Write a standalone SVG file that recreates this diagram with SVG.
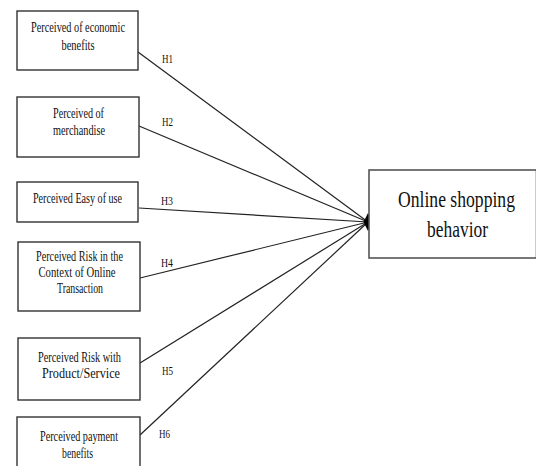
<svg xmlns="http://www.w3.org/2000/svg" width="536" height="466" viewBox="0 0 536 466">
<style>
.box{fill:#fff;stroke:#333;stroke-width:1.4}
.big{fill:#fff;stroke:#555;stroke-width:1.6}
.t{font-family:"Liberation Serif","Times New Roman",serif;font-size:14px;fill:#111;text-anchor:middle}
.h{font-family:"Liberation Serif","Times New Roman",serif;font-size:13px;fill:#111}
.bt{font-family:"Liberation Serif","Times New Roman",serif;font-size:23px;fill:#111;text-anchor:middle}
.c{stroke:#222;stroke-width:1.2;fill:none}
</style>
<rect width="536" height="466" fill="#fff"/>
<g id="connectors">
<line class="c" x1="138" y1="52" x2="368" y2="222"/>
<line class="c" x1="139" y1="126" x2="368" y2="222"/>
<line class="c" x1="139" y1="208" x2="368" y2="222"/>
<line class="c" x1="140" y1="278" x2="368" y2="222"/>
<line class="c" x1="140" y1="363" x2="368" y2="222"/>
<line class="c" x1="140" y1="435" x2="368" y2="222"/>
<polygon points="368,213 372.5,222 368,231 363.5,222" fill="#000"/>
<text class="h" x="162" y="63" textLength="11" lengthAdjust="spacingAndGlyphs">H1</text>
<text class="h" x="162" y="126" textLength="11" lengthAdjust="spacingAndGlyphs">H2</text>
<text class="h" x="161" y="205" textLength="12" lengthAdjust="spacingAndGlyphs">H3</text>
<text class="h" x="161" y="267" textLength="12" lengthAdjust="spacingAndGlyphs">H4</text>
<text class="h" x="162" y="375" textLength="11" lengthAdjust="spacingAndGlyphs">H5</text>
<text class="h" x="159" y="438" textLength="11" lengthAdjust="spacingAndGlyphs">H6</text>
</g>
<g id="n1">
<rect class="box" x="17" y="11" width="121" height="59"/>
<text class="t" x="78" y="32" textLength="94" lengthAdjust="spacingAndGlyphs">Perceived of economic</text>
<text class="t" x="78" y="50" textLength="33" lengthAdjust="spacingAndGlyphs">benefits</text>
</g>
<g id="n2">
<rect class="box" x="17" y="97" width="122" height="60"/>
<text class="t" x="78.5" y="118" textLength="51" lengthAdjust="spacingAndGlyphs">Perceived of</text>
<text class="t" x="79" y="135" textLength="52" lengthAdjust="spacingAndGlyphs">merchandise</text>
</g>
<g id="n3">
<rect class="box" x="17" y="182" width="121" height="40"/>
<text class="t" x="77.5" y="203" textLength="89" lengthAdjust="spacingAndGlyphs">Perceived Easy of use</text>
</g>
<g id="n4">
<rect class="box" x="18" y="242" width="122" height="69"/>
<text class="t" x="79.5" y="261" textLength="87" lengthAdjust="spacingAndGlyphs">Perceived Risk in the</text>
<text class="t" x="77" y="277" textLength="77" lengthAdjust="spacingAndGlyphs">Context of Online</text>
<text class="t" x="80" y="293" textLength="46" lengthAdjust="spacingAndGlyphs">Transaction</text>
</g>
<g id="n5">
<rect class="box" x="18" y="338" width="122" height="62"/>
<text class="t" x="79.5" y="362" textLength="83" lengthAdjust="spacingAndGlyphs">Perceived Risk with</text>
<text class="t" x="81" y="378" textLength="78" lengthAdjust="spacingAndGlyphs">Product/Service</text>
</g>
<g id="n6">
<rect class="box" x="17" y="417" width="123" height="60"/>
<text class="t" x="79" y="441" textLength="78" lengthAdjust="spacingAndGlyphs">Perceived payment</text>
<text class="t" x="77.5" y="458" textLength="31" lengthAdjust="spacingAndGlyphs">benefits</text>
</g>
<g id="target">
<rect class="big" x="369" y="170" width="167.5" height="88"/>
<text class="bt" x="456.5" y="207" textLength="117" lengthAdjust="spacingAndGlyphs">Online shopping</text>
<text class="bt" x="457.5" y="237" textLength="61" lengthAdjust="spacingAndGlyphs">behavior</text>
</g>
</svg>
